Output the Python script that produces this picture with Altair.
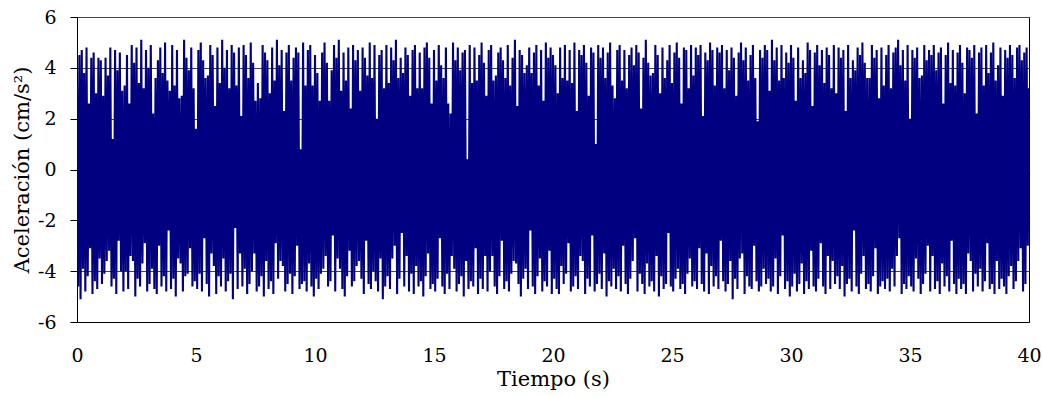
import altair as alt
import pandas as pd

dt = 0.05
acc = [
    3.3, -4.6, 4.5, -5.1, 4.7, -3.9, 3.8, -4.8, 4.8, -4.2, 2.6, -3.1, 4.4, -4.9, 4.6, -4.4, 3.0, -4.7, 4.4, -3.5,
    4.3, -4.5, 2.9, -4.1, 4.4, -3.6, 3.7, -3.2, 4.8, -4.6, 1.2, -4.3, 4.7, -4.9, 3.9, -2.8, 4.6, -4.0, 3.1, -4.8,
    3.3, -4.0, 4.5, -4.7, 2.6, -3.4, 4.9, -3.6, 4.2, -5.0, 4.8, -4.3, 3.4, -4.6, 5.1, -3.7, 3.2, -2.9, 4.7, -4.8,
    4.0, -4.5, 4.9, -3.9, 2.2, -4.7, 3.6, -4.9, 4.3, -3.0, 4.8, -4.6, 3.8, -4.2, 5.0, -4.8, 3.5, -2.4, 3.1, -4.7,
    4.9, -4.3, 3.3, -5.0, 4.7, -3.5, 2.8, -3.7, 2.9, -4.8, 5.1, -4.2, 4.4, -4.1, 3.9, -3.1, 4.8, -4.6, 3.2, -4.4,
    1.6, -4.7, 4.7, -4.1, 5.0, -4.8, 4.3, -2.7, 3.6, -4.5, 3.7, -5.0, 4.9, -3.3, 4.5, -3.8, 2.5, -4.9, 4.8, -4.2,
    3.4, -4.6, 5.1, -3.5, 4.0, -4.8, 4.7, -4.4, 3.2, -4.1, 4.9, -5.1, 4.6, -2.3, 3.3, -4.7, 4.8, -3.3, 2.1, -4.6,
    4.9, -3.9, 4.5, -4.9, 3.6, -4.5, 5.0, -4.0, 4.2, -3.3, 2.7, -4.8, 3.4, -4.6, 2.8, -4.2, 4.9, -5.0, 4.6, -3.6,
    4.3, -4.7, 3.0, -4.4, 4.8, -4.9, 3.5, -2.9, 5.1, -4.3, 4.1, -3.6, 4.7, -3.8, 2.3, -4.8, 4.6, -4.5, 4.9, -4.1,
    3.5, -4.9, 4.4, -4.2, 4.8, -3.0, 4.6, -4.7, 0.8, -4.5, 5.0, -4.4, 3.3, -4.8, 4.7, -3.7, 4.9, -4.6, 3.3, -5.0,
    4.5, -4.3, 3.8, -4.7, 2.7, -4.1, 4.6, -3.9, 5.0, -3.4, 4.2, -4.6, 2.7, -4.4, 3.9, -2.6, 4.9, -4.8, 4.4, -3.5,
    5.1, -3.9, 3.1, -4.7, 4.6, -5.0, 3.5, -4.2, 4.8, -3.2, 2.4, -4.6, 4.9, -4.4, 4.3, -3.8, 4.7, -3.6, 3.1, -4.3,
    4.8, -4.9, 4.4, -2.8, 3.7, -4.5, 5.0, -4.7, 3.6, -4.0, 4.9, -4.4, 2.0, -4.8, 4.5, -3.5, 4.7, -5.1, 3.2, -4.6,
    4.9, -4.2, 3.4, -4.7, 4.8, -3.5, 4.3, -3.0, 5.1, -4.9, 3.6, -4.3, 4.4, -2.5, 3.8, -4.6, 4.8, -3.4, 4.5, -4.8,
    2.9, -4.1, 4.7, -4.9, 4.9, -3.8, 3.2, -4.6, 4.6, -4.4, 3.2, -5.0, 4.8, -4.2, 5.0, -3.3, 4.4, -4.7, 2.6, -4.5,
    4.7, -4.8, 3.5, -4.3, 4.9, -2.7, 4.1, -4.6, 3.6, -4.9, 4.8, -4.1, 2.6, -4.7, 2.2, -3.4, 5.0, -3.9, 4.3, -4.8,
    4.8, -4.5, 3.9, -4.2, 4.6, -5.0, 4.7, -3.6, 0.4, -4.7, 4.9, -4.4, 3.4, -4.6, 4.8, -3.1, 3.5, -4.9, 4.5, -4.3,
    5.0, -4.7, 4.2, -3.4, 2.9, -4.8, 4.7, -4.0, 4.9, -3.4, 3.5, -4.6, 3.7, -4.9, 4.6, -4.2, 4.8, -2.8, 4.3, -4.7,
    3.6, -4.4, 4.9, -4.8, 3.3, -4.1, 4.4, -3.6, 5.1, -3.7, 2.5, -4.5, 4.7, -5.0, 4.5, -4.3, 3.8, -3.9, 4.1, -4.7,
    4.8, -2.4, 3.8, -4.6, 4.6, -4.9, 4.9, -4.2, 3.3, -3.5, 4.7, -4.8, 2.7, -4.4, 5.0, -4.6, 4.4, -3.2, 4.8, -4.9,
    4.5, -4.3, 4.1, -4.7, 3.0, -4.9, 4.8, -3.8, 3.6, -4.5, 4.9, -4.1, 3.5, -2.9, 4.7, -4.8, 3.4, -4.6, 5.0, -4.2,
    2.3, -4.7, 4.7, -3.4, 4.5, -3.6, 4.9, -4.9, 4.2, -4.3, 2.9, -4.6, 4.8, -2.6, 4.6, -4.8, 1.0, -4.5, 4.9, -4.1,
    4.4, -4.7, 4.8, -3.3, 3.6, -5.0, 4.6, -4.4, 5.0, -4.6, 3.3, -3.9, 2.8, -4.7, 4.7, -4.2, 4.9, -4.8, 3.5, -3.0,
    4.7, -4.5, 3.2, -4.9, 4.5, -4.3, 4.8, -3.6, 4.1, -2.7, 4.9, -4.8, 4.6, -4.1, 2.4, -4.5, 4.4, -4.9, 5.1, -3.7,
    4.2, -4.6, 3.7, -4.4, 3.8, -4.8, 4.9, -3.4, 4.5, -5.0, 3.0, -4.2, 4.8, -4.7, 3.6, -4.5, 4.3, -2.5, 4.9, -4.6,
    3.4, -4.8, 4.6, -4.3, 5.0, -3.9, 4.4, -4.7, 2.6, -4.5, 4.8, -4.9, 4.7, -4.1, 3.2, -3.5, 4.9, -4.6, 3.7, -4.4,
    4.8, -4.7, 4.5, -3.1, 4.9, -4.5, 2.1, -4.8, 4.6, -3.3, 4.3, -4.9, 5.0, -3.8, 4.7, -4.6, 3.3, -4.2, 4.8, -4.7,
    4.6, -2.8, 4.9, -4.4, 3.2, -4.8, 4.7, -4.5, 3.9, -3.6, 4.8, -5.1, 4.4, -4.3, 2.9, -4.7, 4.6, -3.5, 5.0, -3.3,
    4.3, -4.9, 4.8, -4.2, 3.5, -4.6, 4.5, -4.7, 4.9, -3.0, 3.6, -4.4, 1.9, -4.8, 4.7, -4.6, 4.4, -3.9, 4.9, -4.5,
    4.7, -4.3, 3.1, -4.8, 5.1, -4.6, 4.3, -3.5, 4.8, -4.9, 3.5, -4.2, 4.9, -2.6, 3.6, -4.7, 4.6, -4.4, 4.2, -5.0,
    4.9, -4.6, 4.4, -4.1, 2.7, -4.8, 4.8, -4.5, 3.6, -3.7, 4.3, -4.9, 3.8, -4.4, 5.0, -4.7, 4.7, -3.2, 2.5, -4.6,
    4.6, -4.8, 4.9, -4.3, 4.1, -2.9, 4.7, -4.6, 3.4, -4.9, 4.8, -3.4, 4.5, -4.7, 3.2, -3.6, 4.9, -4.5, 3.0, -4.2,
    4.8, -4.7, 4.4, -3.8, 4.7, -5.0, 2.3, -4.5, 4.9, -4.3, 3.6, -4.8, 4.3, -2.4, 3.9, -4.6, 4.8, -4.9, 4.5, -4.1,
    5.0, -3.4, 4.2, -4.7, 3.6, -4.5, 3.6, -4.8, 4.9, -4.2, 4.4, -3.1, 4.7, -4.9, 2.8, -4.6, 4.8, -4.4, 3.3, -4.7,
    4.5, -4.3, 4.9, -4.8, 3.2, -3.9, 4.6, -4.6, 4.8, -3.4, 5.1, -2.7, 4.1, -4.9, 4.7, -4.5, 3.5, -4.7, 4.9, -4.2,
    2.0, -4.6, 4.7, -4.8, 4.4, -3.5, 4.8, -4.3, 3.6, -4.9, 3.7, -4.5, 4.9, -4.1, 4.3, -3.0, 4.7, -4.8, 4.5, -3.4,
    4.9, -4.7, 3.9, -4.4, 4.6, -4.9, 4.8, -3.7, 2.6, -4.6, 4.5, -4.2, 5.0, -4.8, 3.4, -2.8, 4.7, -4.5, 3.3, -4.9,
    4.6, -4.3, 4.9, -4.7, 4.2, -4.5, 3.0, -4.9, 4.8, -3.3, 4.7, -3.6, 4.4, -4.8, 4.9, -4.1, 2.2, -4.6, 4.6, -3.9,
    4.8, -4.8, 3.3, -4.4, 4.9, -2.9, 3.8, -4.7, 4.6, -4.5, 5.0, -4.9, 3.5, -3.6, 4.1, -4.7, 4.8, -4.3, 2.9, -4.6,
    4.7, -4.9, 4.4, -4.2, 4.9, -3.8, 4.5, -4.7, 3.6, -4.4, 4.8, -3.6, 4.9, -3.1, 4.3, -4.8, 4.6, -4.5, 4.8, -3.0,
    3.2,
]
time = [round(i * dt, 2) for i in range(len(acc))]

x_ticks = [0, 5, 10, 15, 20, 25, 30, 35, 40]
y_ticks = [-6, -4, -2, 0, 2, 4, 6]

df = pd.DataFrame({"t": time, "a": acc})

FONT = "DejaVu Serif"

chart = (
    alt.Chart(df)
    .mark_line(color="#000080", strokeWidth=2.1, clip=True, strokeJoin="miter", strokeMiterLimit=3)
    .encode(
        x=alt.X(
            "t:Q",
            scale=alt.Scale(domain=[0, 40], nice=False, zero=False),
            axis=alt.Axis(
                title="Tiempo (s)",
                values=x_ticks,
                grid=False,
                ticks=False,
                domain=True,
                domainColor="#000000",
                labelPadding=24,
                titlePadding=3,
                labelFlush=False,
                labelExpr="'' + datum.value",
            ),
        ),
        y=alt.Y(
            "a:Q",
            scale=alt.Scale(domain=[-6, 6], nice=False, zero=False),
            axis=alt.Axis(
                title="Aceleración (cm/s²)",
                values=y_ticks,
                grid=True,
                gridColor="#444444",
                gridWidth=1,
                gridOpacity=1,
                ticks=True,
                tickSize=7,
                tickColor="#000000",
                domainColor="#000000",
                labelPadding=14,
                titlePadding=5,
                labelExpr="'' + datum.value",
            ),
        ),
    )
    .properties(
        width=952,
        height=305,
        background="#ffffff",
        autosize=alt.AutoSizeParams(type="none"),
        padding={"left": 77, "top": 17, "right": 13, "bottom": 75},
    )
    .configure_view(stroke="#000000", strokeWidth=1)
    .configure_axis(
        labelFont=FONT,
        labelFontSize=19,
        labelColor="#000000",
        titleFont=FONT,
        titleFontSize=21,
        titleFontWeight="normal",
        titleColor="#000000",
    )
)

chart.save("out.html", embed_options={"renderer": "svg", "actions": False})
